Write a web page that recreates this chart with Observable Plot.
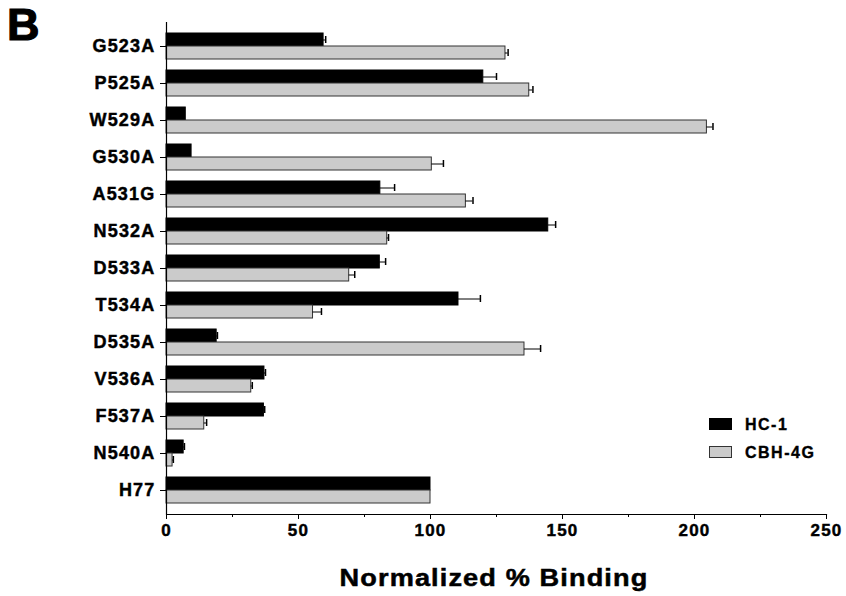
<!DOCTYPE html>
<html>
<head>
<meta charset="utf-8">
<script src="https://cdn.jsdelivr.net/npm/d3@7"></script>
<script src="https://cdn.jsdelivr.net/npm/@observablehq/plot@0.6"></script>
<style>
  body { margin: 0; background: #fff; }
  #wrap { position: relative; width: 846px; height: 596px; font-family: "Liberation Sans", Arial, sans-serif; }
  #wrap svg { position: absolute; left: 0; top: 0; }
  .ylab text { letter-spacing: 1.2px; stroke: #000; stroke-width: 0.45px; }
  .panel { position: absolute; left: 7px; top: 2px; font-size: 45px; line-height: 45px; font-weight: bold; -webkit-text-stroke: 1.2px #000; color: #000; }
  .xtitle { position: absolute; left: 0; width: 988px; top: 566px; text-align: center; font-size: 24px; line-height: 24px; font-weight: bold; letter-spacing: 1px; color: #000; -webkit-text-stroke: 0.5px #000; transform: scaleX(1.13); transform-origin: 494px 0; }
  .leg { position: absolute; font-size: 16px; line-height: 16px; font-weight: bold; letter-spacing: 1.5px; color: #000; -webkit-text-stroke: 0.35px #000; }
  .sw { position: absolute; width: 23px; height: 12px; box-sizing: border-box; }
</style>
</head>
<body>
<div id="wrap"></div>
<script>
const categories = ["G523A","P525A","W529A","G530A","A531G","N532A","D533A","T534A","D535A","V536A","F537A","N540A","H77"];
const hc1Values  = [59.5, 120.0, 7.3, 9.5, 81.0, 144.6, 80.8, 110.6, 19.0, 37.1, 36.9, 6.5, 100];
const hc1Errors  = [0.8, 5.0, 0, 0, 5.4, 2.8, 2.2, 8.3, 0.3, 0.4, 0.3, 0.3, 0];
const cbhValues  = [128.4, 137.4, 204.7, 100.5, 113.4, 83.6, 69.2, 55.5, 135.6, 32.1, 14.3, 2.3, 100];
const cbhErrors  = [1.0, 1.4, 2.3, 4.4, 2.7, 0.5, 2.1, 3.2, 6.1, 0.4, 0.9, 0.3, 0];
const seriesNames = ["HC-1", "CBH-4G"];
const majorTicks = [0, 50, 100, 150, 200, 250];
const minorTicks = [25, 75, 125, 175, 225];
const xTitle = "Normalized % Binding";
const panelLabel = "B";

const hc1Rows = categories.map((c, i) => ({cat: c, value: hc1Values[i], err: hc1Errors[i]}));
const cbhRows = categories.map((c, i) => ({cat: c, value: cbhValues[i], err: cbhErrors[i]}));

const chart = Plot.plot({
  width: 846,
  height: 596,
  marginLeft: 166,
  marginRight: 20,
  marginTop: 22,
  marginBottom: 82,
  style: {fontFamily: "'Liberation Sans', Arial, sans-serif", color: "#000", background: "transparent"},
  x: {domain: [0, 250]},
  y: {domain: categories, paddingInner: 0.31, paddingOuter: 0.155},
  marks: [
    Plot.barX(hc1Rows, {x: "value", y: "cat", fill: "#000", stroke: "#000", strokeWidth: 1, insetBottom: 13}),
    Plot.barX(cbhRows, {x: "value", y: "cat", fill: "#cbcbcb", stroke: "#333", strokeWidth: 1, insetTop: 13}),
    Plot.ruleY(hc1Rows.filter(d => d.err > 0), {y: "cat", x1: "value", x2: d => d.value + d.err, dy: -6.5, stroke: "#000", strokeWidth: 1}),
    Plot.tickX(hc1Rows.filter(d => d.err > 0), {x: d => d.value + d.err, y: "cat", insetTop: 3, insetBottom: 16, stroke: "#000", strokeWidth: 1.5}),
    Plot.ruleY(cbhRows.filter(d => d.err > 0), {y: "cat", x1: "value", x2: d => d.value + d.err, dy: 6.5, stroke: "#000", strokeWidth: 1}),
    Plot.tickX(cbhRows.filter(d => d.err > 0), {x: d => d.value + d.err, y: "cat", insetTop: 16, insetBottom: 3, stroke: "#000", strokeWidth: 1.5}),
    Plot.ruleX([0], {stroke: "#000", strokeWidth: 1.2}),
    Plot.frame({anchor: "bottom", stroke: "#000", strokeWidth: 1.2}),
    Plot.axisY({tickSize: 6, tickPadding: 5, fontSize: 18, fontWeight: "bold", label: null, className: "ylab"}),
    Plot.axisX({ticks: majorTicks, tickSize: 5, tickPadding: 4, fontSize: 17, fontWeight: "bold", label: null, className: "ylab"}),
    Plot.axisX({ticks: minorTicks, tickSize: 3, tickFormat: () => "", label: null})
  ]
});

const wrap = document.getElementById("wrap");
wrap.appendChild(chart);

const b = document.createElement("div");
b.className = "panel"; b.textContent = panelLabel; wrap.appendChild(b);

const t = document.createElement("div");
t.className = "xtitle"; t.textContent = xTitle; wrap.appendChild(t);

const legendColors = [["#000", "#000"], ["#cbcbcb", "#333"]];
seriesNames.forEach((name, i) => {
  const sw = document.createElement("div");
  sw.className = "sw";
  sw.style.left = "709px";
  sw.style.top = (418 + i * 28) + "px";
  sw.style.background = legendColors[i][0];
  sw.style.border = "1px solid " + legendColors[i][1];
  wrap.appendChild(sw);
  const lb = document.createElement("div");
  lb.className = "leg";
  lb.style.left = "745px";
  lb.style.top = (417 + i * 28) + "px";
  lb.textContent = name;
  wrap.appendChild(lb);
});
</script>
</body>
</html>
